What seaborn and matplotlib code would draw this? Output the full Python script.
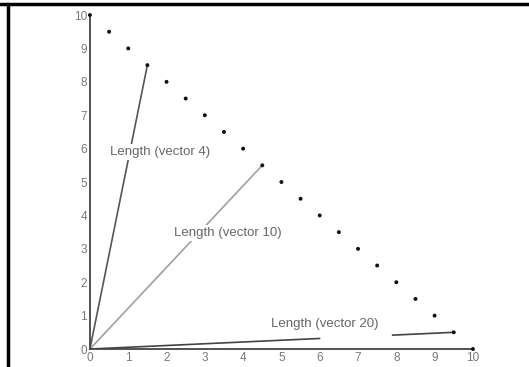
import numpy as np
import pandas as pd
import matplotlib
matplotlib.use("Agg")
import matplotlib.pyplot as plt
import seaborn as sns

# data: 21 points on the line x + y = 10
point_x = [0, 0.5, 1, 1.5, 2, 2.5, 3, 3.5, 4, 4.5, 5, 5.5, 6, 6.5, 7, 7.5, 8, 8.5, 9, 9.5, 10]
point_y = [10, 9.5, 9, 8.5, 8, 7.5, 7, 6.5, 6, 5.5, 5, 4.5, 4, 3.5, 3, 2.5, 2, 1.5, 1, 0.5, 0]
vector_ids = [4, 10, 20]
vector_labels = ["Length (vector 4)", "Length (vector 10)", "Length (vector 20)"]
x_ticks = [0, 1, 2, 3, 4, 5, 6, 7, 8, 9, 10]
y_ticks = [0, 1, 2, 3, 4, 5, 6, 7, 8, 9, 10]

sns.set_style("white")
plt.rcParams['font.family'] = ['Liberation Sans', 'DejaVu Sans']

fig = plt.figure(figsize=(5.29, 3.67), dpi=100)
ax = fig.add_axes([0.170, 0.049, 0.724, 0.910])

df = pd.DataFrame({"x": point_x, "y": point_y})
sns.scatterplot(data=df, x="x", y="y", ax=ax, s=8, color="#111111",
                edgecolor="none", zorder=4)

line_colors = ["#555555", "#a0a0a0", "#444444"]
label_pos = [(1.83, 5.9), (3.6, 3.47), (6.14, 0.75)]
for vid, lab, col, (lx, ly) in zip(vector_ids, vector_labels, line_colors, label_pos):
    vx, vy = point_x[vid - 1], point_y[vid - 1]
    if vid == 20:
        # line interrupted under the label
        t = np.array([0, 6 / vx, np.nan, 7.9 / vx, 1.0])
        seg = pd.DataFrame({"x": t * vx, "y": t * vy})
        for part in (seg.iloc[:2], seg.iloc[3:]):
            sns.lineplot(data=part, x="x", y="y", ax=ax, color=col, lw=1.2,
                         estimator=None, sort=False, zorder=2)
        ax.text(lx, ly, lab, ha="center", va="center", fontsize=9.5,
                color="#666666", zorder=5)
    else:
        seg = pd.DataFrame({"x": [0, vx], "y": [0, vy]})
        sns.lineplot(data=seg, x="x", y="y", ax=ax, color=col, lw=1.2,
                     estimator=None, sort=False, zorder=2)
        ax.text(lx, ly, lab, ha="center", va="center", fontsize=9.5,
                color="#666666", zorder=5,
                bbox=dict(boxstyle="square,pad=0.15", fc="white", ec="none"))

ax.set_xlim(0, 10)
ax.set_ylim(0, 10)
ax.set_xticks(x_ticks)
ax.set_yticks(y_ticks)
ax.set_xticklabels([str(v) for v in x_ticks])
ax.set_yticklabels([str(v) for v in y_ticks])
ax.set_xlabel("")
ax.set_ylabel("")
for s in ["top", "right"]:
    ax.spines[s].set_visible(False)
for s in ["left", "bottom"]:
    ax.spines[s].set_color("#444444")
    ax.spines[s].set_linewidth(1.3)
ax.tick_params(direction="in", length=3, width=0.8, color="#666666",
               labelsize=8.5, labelcolor="#777777", pad=2)
for sp in ax.spines.values():
    sp.set_zorder(3)
for c in ax.collections:
    c.set_clip_on(False)

# figure border (top and left)
fig.add_artist(plt.Line2D([0, 1], [1 - 4 / 367, 1 - 4 / 367], transform=fig.transFigure,
                          color="black", lw=2.5))
fig.add_artist(plt.Line2D([8 / 529, 8 / 529], [0, 1 - 4 / 367], transform=fig.transFigure,
                          color="black", lw=2.5))

fig.savefig("out.png", dpi=100)
